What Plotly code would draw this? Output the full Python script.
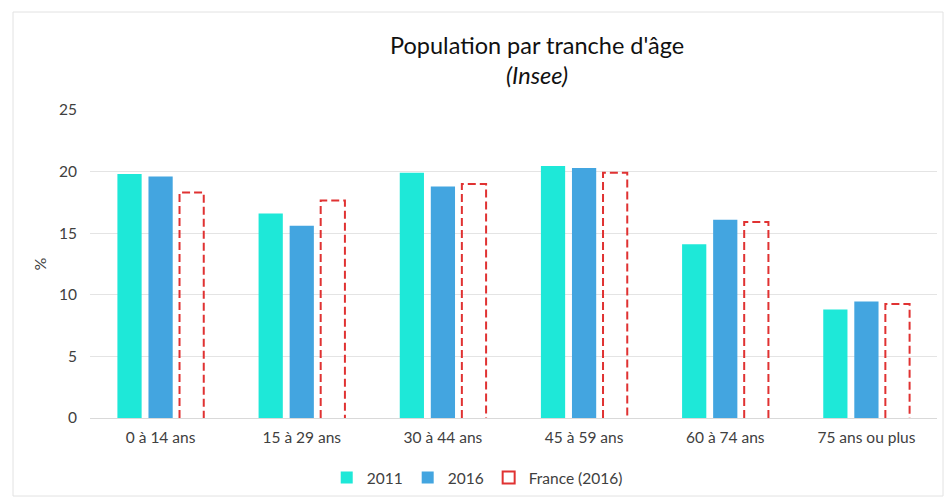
import plotly.graph_objects as go

categories = ["0 à 14 ans", "15 à 29 ans", "30 à 44 ans", "45 à 59 ans", "60 à 74 ans", "75 ans ou plus"]
pop_2011 = [19.8, 16.6, 19.9, 20.45, 14.1, 8.8]
pop_2016 = [19.6, 15.6, 18.8, 20.3, 16.1, 9.45]
france_2016 = [18.3, 17.65, 19.0, 19.9, 15.9, 9.25]

C2011 = "#1EE8D8"
C2016 = "#43A5E0"
CFR = "#E03232"
BARGAP = 0.34
GROUPGAP = 0.22

fig = go.Figure()
fig.add_trace(go.Bar(x=categories, y=pop_2011, name="2011", marker=dict(color=C2011, line=dict(width=0))))
fig.add_trace(go.Bar(x=categories, y=pop_2016, name="2016", marker=dict(color=C2016, line=dict(width=0))))
fig.add_trace(go.Bar(x=categories, y=france_2016, name="France (2016)", showlegend=False,
                     marker=dict(color="rgba(255,255,255,0)", line=dict(width=0)), hoverinfo="skip"))

# dashed outline for France bars on an overlaid linear axis
slot = (1 - BARGAP) / 3
w = slot * (1 - GROUPGAP)
off = slot
xs, ys = [], []
for i, v in enumerate(france_2016):
    xl, xr = i + off - w / 2, i + off + w / 2
    xs += [xl, xl, xr, xr, None]
    ys += [0, v, v, 0, None]
fig.add_trace(go.Scatter(x=xs, y=ys, xaxis="x2", mode="lines", showlegend=False,
                         line=dict(color=CFR, width=2, dash="8px,4px"), hoverinfo="skip"))
# legend entry
fig.add_trace(go.Bar(x=[0], y=[None], xaxis="x2", name="France (2016)",
                     marker=dict(color="white", line=dict(color=CFR, width=2))))

font = "Lato, 'Open Sans', sans-serif"
TXT = "#404040"
fig.update_layout(
    width=945, height=498,
    margin=dict(l=90, r=8, t=110, b=80),
    paper_bgcolor="white", plot_bgcolor="white",
    barmode="group", bargap=BARGAP, bargroupgap=GROUPGAP,
    font=dict(family=font, size=14, color=TXT),
    xaxis=dict(type="category", range=[-0.5, 5.5], showgrid=False, showline=False, ticks="",
               ticklabelstandoff=8, tickfont=dict(size=15.5, color=TXT)),
    xaxis2=dict(overlaying="x", range=[-0.5, 5.5], visible=False),
    yaxis=dict(range=[0, 25], dtick=5, gridcolor="#e4e4e4", gridwidth=1, zeroline=True,
               zerolinecolor="#d9d9d9", zerolinewidth=1, ticks="", ticklabelstandoff=12,
               tickfont=dict(size=15.5, color=TXT),
               title=dict(text="%", font=dict(size=16, color=TXT), standoff=8)),
    legend=dict(orientation="h", xref="container", yref="container", x=0.505, y=1 - 478 / 498,
                xanchor="center", yanchor="middle", font=dict(size=15.5, color=TXT),
                itemwidth=30, tracegroupgap=0),
    annotations=[
        dict(text="Population par tranche d'âge", xref="paper", yref="paper",
             x=(537 - 90) / 847, y=(418 - 45) / 308, showarrow=False,
             font=dict(size=23.5, color="#111111", family=font), xanchor="center", yanchor="middle"),
        dict(text="<i>(Insee)</i>", xref="paper", yref="paper",
             x=(537 - 90) / 847, y=(418 - 75) / 308, showarrow=False,
             font=dict(size=23.5, color="#111111", family=font), xanchor="center", yanchor="middle"),
    ],
    shapes=[dict(type="rect", xref="paper", yref="paper",
                 x0=(13 - 90) / 847, x1=(943 - 90) / 847, y0=(418 - 496) / 308, y1=(418 - 12) / 308,
                 line=dict(color="#e2e2e2", width=1), fillcolor="rgba(0,0,0,0)", layer="below")],
)

fig.write_html("out.html", config={"displayModeBar": False},
               post_script="document.body.style.margin='0';document.body.style.padding='0';")
